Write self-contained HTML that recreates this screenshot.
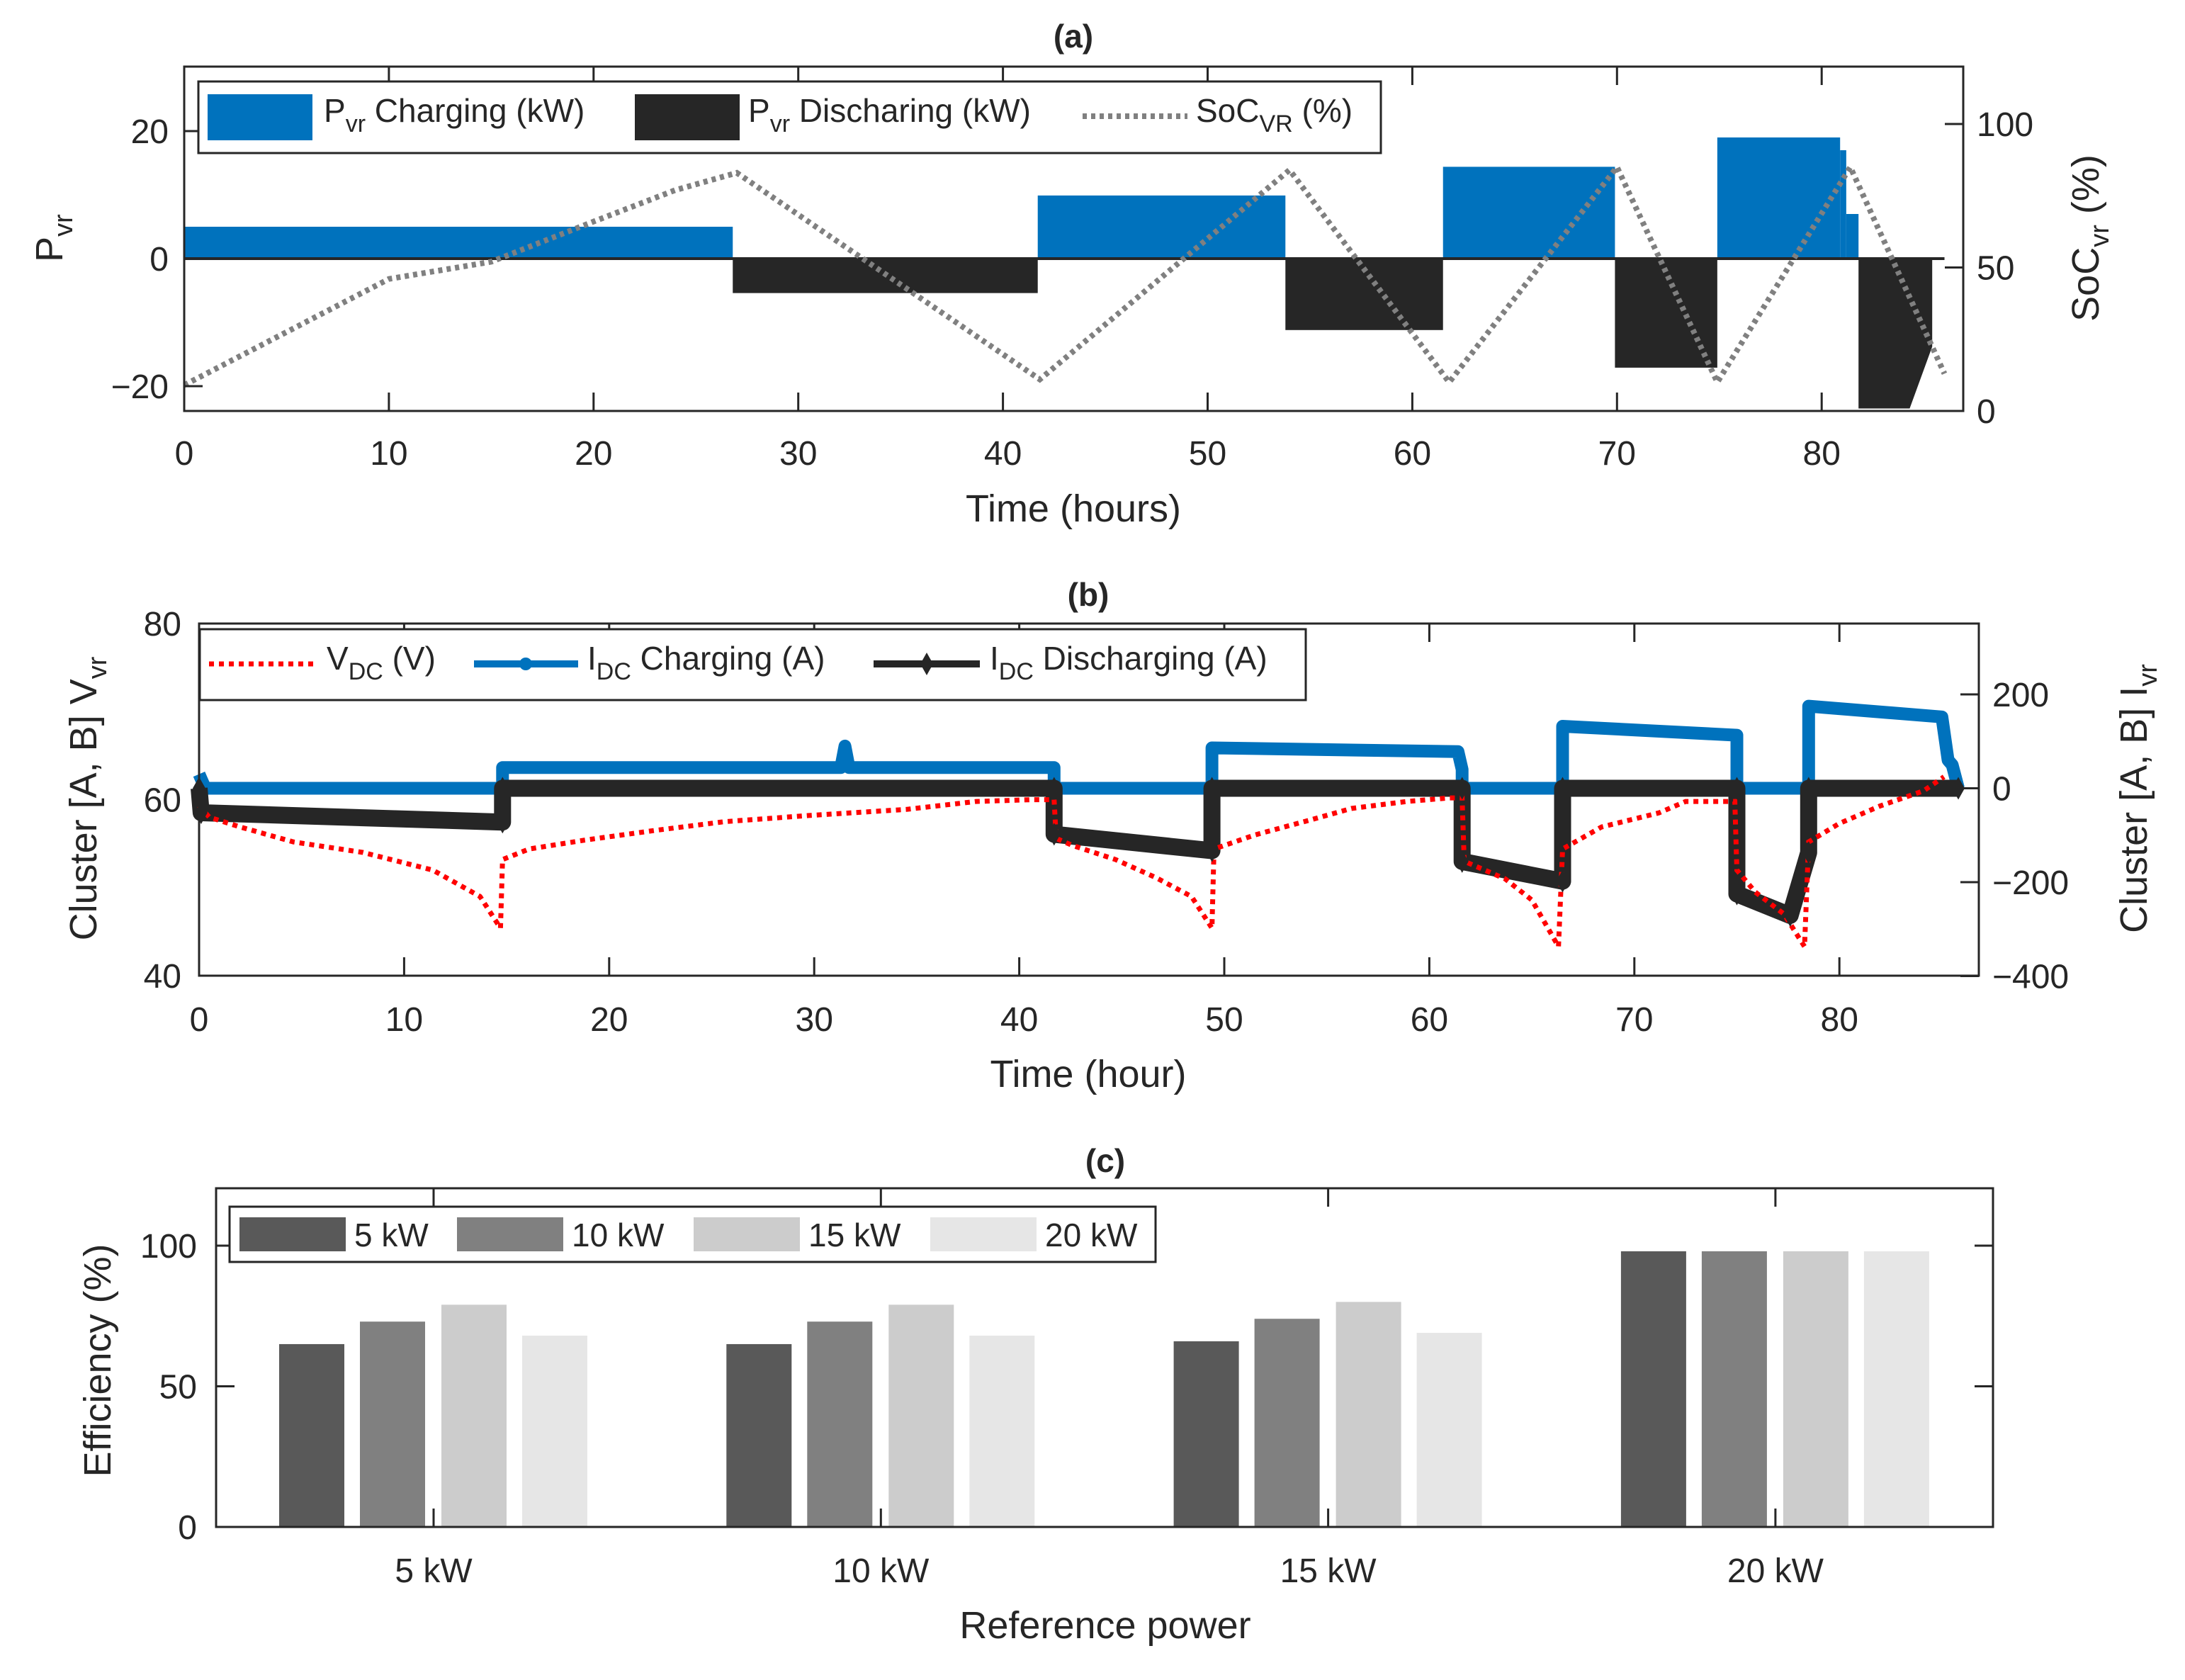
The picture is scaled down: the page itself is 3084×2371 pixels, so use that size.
<!DOCTYPE html>
<html><head><meta charset="utf-8"><style>
html,body{margin:0;padding:0;background:#fff}
svg{display:block}
text{font-family:"Liberation Sans",Arial,sans-serif;fill:#262626}
</style></head><body>
<svg id="fig" width="3084" height="2371" viewBox="0 0 3084 2371" xmlns="http://www.w3.org/2000/svg">
<g id="pa"></g>
<g id="pb"></g>
<g id="pc"></g>
</svg>
<script>
// ---------- Panel (a) data ----------
const chargeBlocks = [[0,26.8,5],[41.7,53.8,9.9],[61.5,69.9,14.4],[74.9,80.9,19],[80.9,81.2,17],[81.2,81.8,7]];
const dischargeBlocks = [[26.8,41.7,-5.4],[53.8,61.5,-11.2],[69.9,74.9,-17.1]];
const lastDischargeHours = [81.8,84.3,85.4,85.4,81.8];
const lastDischargeVals = [-23.5,-23.5,-13.8,0,0];
const socHours = [0,10,15,20,24,27,41.8,54,61.8,70,74.9,81.4,86];
const socVals = [9,46,52,66,77,83,11,84,10,85,10,85,13];
const aXTicks = [0,10,20,30,40,50,60,70,80];
const aYTicks = [-20,0,20];
const aY2Ticks = [0,50,100];
// ---------- Panel (b) data ----------
const vHours = [0,0.5,2,4.6,8,11.4,13.7,14.7,14.8,16.1,18.8,22.2,25.6,29.7,34.5,37.9,40.6,41.7,41.8,42.6,44.7,46.7,48.4,49.4,49.5,51.5,54.2,56.2,58.9,61,61.6,61.7,63.7,65,66.3,66.5,68.4,71.2,72.5,74.9,75,75.9,77.3,78.3,78.5,80,82,84.1,85.1];
const vVals = [59.3,58,56.9,55.2,54,52,49,45.4,53.2,54.4,55.4,56.5,57.5,58.2,58.9,59.8,60,60,55.6,54.8,53.2,51.1,49,45.4,54.4,56,57.7,59,59.8,60.2,60.2,53,51,48.6,43.3,54.4,56.9,58.5,59.8,59.8,52,49.5,47,43.3,55.2,57.3,59.3,61,62.6];
const icHours = [0,0.1,0.3,14.8,14.8,31.3,31.5,31.7,41.7,41.7,49.4,49.4,61.4,61.6,61.6,66.5,66.5,75,75,78.5,78.5,85,85.3,85.5,85.8];
const icVals = [30,20,0,0,44,44,90,44,44,0,0,86,78,40,0,0,132,113,0,0,175,152,60,50,0];
const idHours = [0,0.1,14.8,14.8,41.7,41.7,49.4,49.4,61.6,61.6,66.5,66.5,75,75,77.6,78.5,78.5,85.8];
const idVals = [0,-52,-72,0,0,-98,-133,0,0,-156,-198,0,0,-225,-271,-137,0,0];
const bXTicks = [0,10,20,30,40,50,60,70,80];
const bYTicks = [40,60,80];
const bY2Ticks = [-400,-200,0,200];
// ---------- Panel (c) data ----------
const cCategories = ['5 kW','10 kW','15 kW','20 kW'];
const cSeriesNames = ['5 kW','10 kW','15 kW','20 kW'];
const eff5 = [65,65,66,98];
const eff10 = [73,73,74,98];
const eff15 = [79,79,80,98];
const eff20 = [68,68,69,98];
const cYTicks = [0,50,100];

const NS='http://www.w3.org/2000/svg';
function mk(parent,tag,attrs,name,txt){
  const e=document.createElementNS(NS,tag);
  for(const k in attrs) e.setAttribute(k,attrs[k]);
  
  
  if(txt!==undefined) e.textContent=txt;
  parent.appendChild(e); return e;
}
function frame(g,x0,x1,y0,y1){
  mk(g,'rect',{x:x0,y:y0,width:x1-x0,height:y1-y0,fill:'none',stroke:'#262626','stroke-width':3},'axes-box');
}
function pts(xs,ys,fx,fy){return xs.map((h,i)=>fx(h).toFixed(1)+','+fy(ys[i]).toFixed(1)).join(' ');}

// ================= PANEL A =================
(function(){
  const g=document.getElementById('pa');
  const X0=260,X1=2771,Y0=94,Y1=580;
  const xA=h=>X0+h*28.89, yA=p=>365-p*9.0, yS=s=>580-s*4.05;
  chargeBlocks.forEach(b=>{
    mk(g,'rect',{x:xA(b[0]),y:yA(b[2]),width:xA(b[1])-xA(b[0]),height:yA(0)-yA(b[2]),fill:'#0072bd'},'charging-bar');
  });
  dischargeBlocks.forEach(b=>{
    mk(g,'rect',{x:xA(b[0]),y:yA(0),width:xA(b[1])-xA(b[0]),height:yA(b[2])-yA(0),fill:'#262626'},'discharging-bar');
  });
  mk(g,'polygon',{points:pts(lastDischargeHours,lastDischargeVals,xA,yA),fill:'#262626'},'discharging-bar');
  mk(g,'line',{x1:X0,x2:xA(86),y1:yA(0),y2:yA(0),stroke:'#262626','stroke-width':4},'zero-line');
  mk(g,'polyline',{points:pts(socHours,socVals,xA,yS),fill:'none',stroke:'#808080','stroke-width':8,'stroke-dasharray':'6 6'},'soc-line');
  frame(g,X0,X1,Y0,Y1);
  aXTicks.forEach(t=>{const x=xA(t);
    mk(g,'line',{x1:x,x2:x,y1:Y1,y2:Y1-26,stroke:'#262626','stroke-width':3},'x-tick');
    mk(g,'line',{x1:x,x2:x,y1:Y0,y2:Y0+26,stroke:'#262626','stroke-width':3},'x-tick');
    mk(g,'text',{x:x,y:656,'font-size':48,'text-anchor':'middle'},'x-tick-label',t);});
  aYTicks.forEach(t=>{const y=yA(t);
    mk(g,'line',{x1:X0,x2:X0+26,y1:y,y2:y,stroke:'#262626','stroke-width':3},'y-tick');
    mk(g,'text',{x:238,y:y+17,'font-size':48,'text-anchor':'end'},'y-tick-label',t<0?'\u2212'+(-t):t);});
  aY2Ticks.forEach(t=>{const y=yS(t);
    mk(g,'line',{x1:X1,x2:X1-26,y1:y,y2:y,stroke:'#262626','stroke-width':3},'y2-tick');
    mk(g,'text',{x:2790,y:y+17,'font-size':48},'y2-tick-label',t);});
  mk(g,'text',{x:1515,y:67,'font-size':46,'font-weight':'bold','text-anchor':'middle'},'panel-a-title','(a)');
  mk(g,'text',{x:1515,y:736,'font-size':54,'text-anchor':'middle'},'x-axis-title','Time (hours)');
  const yl=mk(g,'text',{transform:'translate(88,336) rotate(-90)','font-size':54,'text-anchor':'middle'},'y-axis-title');
  yl.innerHTML='P<tspan font-size="38" dy="14">vr</tspan>';
  const y2=mk(g,'text',{transform:'translate(2962,336) rotate(-90)','font-size':54,'text-anchor':'middle'},'y2-axis-title');
  y2.innerHTML='SoC<tspan font-size="38" dy="14">vr</tspan><tspan dy="-14"> (%)</tspan>';
  const L=mk(g,'g',{},'legend');
  mk(L,'rect',{x:280,y:115,width:1669,height:101,fill:'#fff',stroke:'#262626','stroke-width':3},'legend-box');
  mk(L,'rect',{x:293,y:133,width:148,height:65,fill:'#0072bd'},'legend-swatch-charging');
  let t=mk(L,'text',{x:457,y:172,'font-size':46},'legend-label-charging');
  t.innerHTML='P<tspan font-size="34" dy="14">vr</tspan><tspan dy="-14"> Charging (kW)</tspan>';
  mk(L,'rect',{x:896,y:133,width:148,height:65,fill:'#262626'},'legend-swatch-discharging');
  t=mk(L,'text',{x:1056,y:172,'font-size':46},'legend-label-discharging');
  t.innerHTML='P<tspan font-size="34" dy="14">vr</tspan><tspan dy="-14"> Discharing (kW)</tspan>';
  mk(L,'line',{x1:1528,x2:1676,y1:164,y2:164,stroke:'#808080','stroke-width':8,'stroke-dasharray':'6 6'},'legend-swatch-soc');
  t=mk(L,'text',{x:1688,y:172,'font-size':46},'legend-label-soc');
  t.innerHTML='SoC<tspan font-size="34" dy="14">VR</tspan><tspan dy="-14"> (%)</tspan>';
})();

// ================= PANEL B =================
(function(){
  const g=document.getElementById('pb');
  const X0=281,X1=2793,Y0=880,Y1=1377;
  const xB=h=>X0+h*28.94, yV=v=>1377-(v-40)*12.42, yI=i=>1112.5-i*0.6625;
  mk(g,'polyline',{points:pts(icHours,icVals,xB,yI),fill:'none',stroke:'#0072bd','stroke-width':18,'stroke-linejoin':'round'},'i-charging-line');
  mk(g,'polyline',{points:pts(idHours,idVals,xB,yI),fill:'none',stroke:'#262626','stroke-width':24,'stroke-linejoin':'round'},'i-discharging-line');
  mk(g,'polyline',{points:pts(vHours,vVals,xB,yV),fill:'none',stroke:'#ff0000','stroke-width':7,'stroke-dasharray':'7 7'},'v-dc-line');
  idHours.forEach((h,i)=>{const x=xB(h),y=yI(idVals[i]);
    mk(g,'polygon',{points:`${x},${y-16} ${x+9},${y} ${x},${y+16} ${x-9},${y}`,fill:'#262626'},'i-discharging-marker');});
  frame(g,X0,X1,Y0,Y1);
  bXTicks.forEach(t=>{const x=xB(t);
    mk(g,'line',{x1:x,x2:x,y1:Y1,y2:Y1-26,stroke:'#262626','stroke-width':3},'x-tick');
    mk(g,'line',{x1:x,x2:x,y1:Y0,y2:Y0+26,stroke:'#262626','stroke-width':3},'x-tick');
    mk(g,'text',{x:x,y:1455,'font-size':48,'text-anchor':'middle'},'x-tick-label',t);});
  bYTicks.forEach(t=>{const y=yV(t);
    mk(g,'text',{x:256,y:y+17,'font-size':48,'text-anchor':'end'},'y-tick-label',t);});
  bY2Ticks.forEach(t=>{const y=yI(t);
    mk(g,'line',{x1:X1,x2:X1-26,y1:y,y2:y,stroke:'#262626','stroke-width':3},'y2-tick');
    mk(g,'text',{x:2812,y:y+17,'font-size':48},'y2-tick-label',t<0?'\u2212'+(-t):t);});
  mk(g,'text',{x:1536,y:855,'font-size':46,'font-weight':'bold','text-anchor':'middle'},'panel-b-title','(b)');
  mk(g,'text',{x:1536,y:1534,'font-size':54,'text-anchor':'middle'},'x-axis-title','Time (hour)');
  let t=mk(g,'text',{transform:'translate(136,1127) rotate(-90)','font-size':54,'text-anchor':'middle'},'y-axis-title');
  t.innerHTML='Cluster [A, B] V<tspan font-size="38" dy="14">vr</tspan>';
  t=mk(g,'text',{transform:'translate(3030,1127) rotate(-90)','font-size':54,'text-anchor':'middle'},'y2-axis-title');
  t.innerHTML='Cluster [A, B] I<tspan font-size="38" dy="14">vr</tspan>';
  const L=mk(g,'g',{},'legend');
  mk(L,'rect',{x:282,y:888,width:1561,height:100,fill:'#fff',stroke:'#262626','stroke-width':3},'legend-box');
  mk(L,'line',{x1:295,x2:447,y1:937,y2:937,stroke:'#ff0000','stroke-width':7,'stroke-dasharray':'7 7'},'legend-swatch-vdc');
  t=mk(L,'text',{x:461,y:945,'font-size':46},'legend-label-vdc');
  t.innerHTML='V<tspan font-size="34" dy="14">DC</tspan><tspan dy="-14"> (V)</tspan>';
  mk(L,'line',{x1:669,x2:816,y1:937,y2:937,stroke:'#0072bd','stroke-width':10},'legend-swatch-icharge');
  mk(L,'circle',{cx:742,cy:937,r:9,fill:'#0072bd'},'legend-marker-icharge');
  t=mk(L,'text',{x:829,y:945,'font-size':46},'legend-label-icharge');
  t.innerHTML='I<tspan font-size="34" dy="14">DC</tspan><tspan dy="-14"> Charging (A)</tspan>';
  mk(L,'line',{x1:1233,x2:1383,y1:937,y2:937,stroke:'#262626','stroke-width':10},'legend-swatch-idischarge');
  mk(L,'polygon',{points:'1308,921 1317,937 1308,953 1299,937',fill:'#262626'},'legend-marker-idischarge');
  t=mk(L,'text',{x:1397,y:945,'font-size':46},'legend-label-idischarge');
  t.innerHTML='I<tspan font-size="34" dy="14">DC</tspan><tspan dy="-14"> Discharging (A)</tspan>';
})();

// ================= PANEL C =================
(function(){
  const g=document.getElementById('pc');
  const X0=305,X1=2813,Y0=1677,Y1=2155;
  const yC=e=>2155-e*3.97;
  const groupX=i=>612+i*631.3;
  const offs=[-172,-58,57,171];
  const series=[eff5,eff10,eff15,eff20];
  const cols=['#595959','#808080','#cccccc','#e6e6e6'];
  series.forEach((s,si)=>s.forEach((v,ci)=>{
    const cx=groupX(ci)+offs[si];
    mk(g,'rect',{x:cx-46,y:yC(v),width:92,height:Y1-yC(v),fill:cols[si]},'bar-'+cSeriesNames[si].replace(' ','')+'-'+cCategories[ci].replace(' ',''));
  }));
  frame(g,X0,X1,Y0,Y1);
  cCategories.forEach((c,i)=>{const x=groupX(i);
    mk(g,'line',{x1:x,x2:x,y1:Y1,y2:Y1-26,stroke:'#262626','stroke-width':3},'x-tick');
    mk(g,'line',{x1:x,x2:x,y1:Y0,y2:Y0+26,stroke:'#262626','stroke-width':3},'x-tick');
    mk(g,'text',{x:x,y:2233,'font-size':48,'text-anchor':'middle'},'x-tick-label',c);});
  cYTicks.forEach(t=>{const y=yC(t);
    mk(g,'line',{x1:X1,x2:X1-26,y1:y,y2:y,stroke:'#262626','stroke-width':3},'y-tick');
    mk(g,'line',{x1:X0,x2:X0+26,y1:y,y2:y,stroke:'#262626','stroke-width':3},'y-tick');
    mk(g,'text',{x:278,y:y+17,'font-size':48,'text-anchor':'end'},'y-tick-label',t);});
  mk(g,'text',{x:1560,y:1654,'font-size':46,'font-weight':'bold','text-anchor':'middle'},'panel-c-title','(c)');
  mk(g,'text',{x:1560,y:2312,'font-size':54,'text-anchor':'middle'},'x-axis-title','Reference power');
  mk(g,'text',{transform:'translate(156,1920) rotate(-90)','font-size':54,'text-anchor':'middle'},'y-axis-title','Efficiency (%)');
  const L=mk(g,'g',{},'legend');
  mk(L,'rect',{x:324,y:1703,width:1307,height:78,fill:'#fff',stroke:'#262626','stroke-width':3},'legend-box');
  const lx=[338,645,979,1313];
  cSeriesNames.forEach((n,i)=>{
    mk(L,'rect',{x:lx[i],y:1718,width:150,height:48,fill:cols[i]},'legend-swatch');
    mk(L,'text',{x:lx[i]+162,y:1759,'font-size':46},'legend-label',n);
  });
})();
</script>
</body></html>
